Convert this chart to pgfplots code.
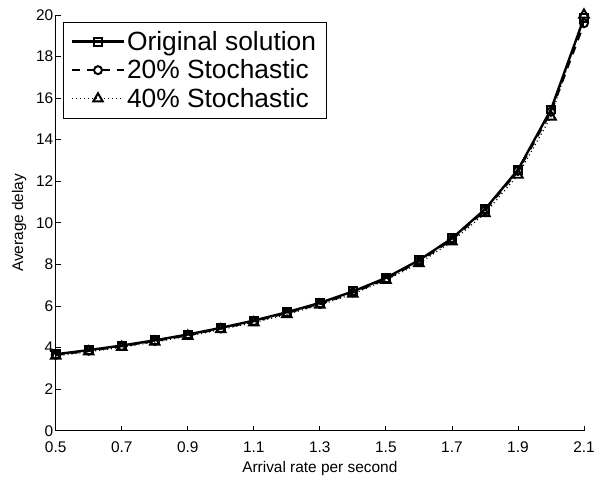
\documentclass[border=0pt]{standalone}
\usepackage{fontspec}
\setmainfont{Liberation Sans}
\usepackage{pgfplots}
\pgfplotsset{compat=1.18}
\begin{document}
\begin{tikzpicture}
\begin{axis}[
  scale only axis,
  width=531bp, height=418bp,
  xmin=0.5, xmax=2.1, ymin=0, ymax=20,
  axis x line*=bottom, axis y line*=left,
  axis line style={-, line width=0.8pt},
  tick align=inside,
  major tick length=5bp,
  tick style={line width=0.8pt, black},
  xtick={0.5,0.7,0.9,1.1,1.3,1.5,1.7,1.9,2.1},
  xticklabels={0.5,0.7,0.9,1.1,1.3,1.5,1.7,1.9,2.1},
  ytick={0,2,4,6,8,10,12,14,16,18,20},
  /pgf/number format/assume math mode=true,
  ticklabel style={font=\fontsize{15.5bp}{17bp}\selectfont},
  label style={font=\fontsize{15.5bp}{17bp}\selectfont},
  xlabel={Arrival rate per second},
  ylabel={Average delay},
  xticklabel style={yshift=-8bp},
  xlabel style={yshift=-1bp},
  yticklabel style={xshift=1bp},
  ylabel style={yshift=3bp},
  legend style={at={(0.013,0.983)}, anchor=north west, draw=black, line width=0.8pt,
    font=\fontsize{26.5bp}{29bp}\selectfont, inner xsep=8bp, inner ysep=7bp, row sep=4bp,
    legend cell align=left},
  legend image code/.code={%
    \draw[mark repeat=2, mark phase=2, #1] plot coordinates {(0bp,0bp) (26bp,0bp) (52bp,0bp)};},
  every axis plot/.append style={black, mark size=4bp,
     mark options={solid, fill=none, line width=2pt}},
]
\addplot[mark=square, line width=2.4pt] coordinates {
(0.5,3.68) (0.6,3.88) (0.7,4.10) (0.8,4.35) (0.9,4.63) (1.0,4.95) (1.1,5.30) (1.2,5.70) (1.3,6.15) (1.4,6.70) (1.5,7.35) (1.6,8.20) (1.7,9.25) (1.8,10.65) (1.9,12.55) (2.0,15.45) (2.1,19.85)};
\addlegendentry{Original solution}
\addplot[mark=o, line width=2.4pt, dash pattern=on 8bp off 7bp] coordinates {
(0.5,3.65) (0.6,3.85) (0.7,4.07) (0.8,4.32) (0.9,4.60) (1.0,4.92) (1.1,5.27) (1.2,5.67) (1.3,6.10) (1.4,6.65) (1.5,7.30) (1.6,8.15) (1.7,9.20) (1.8,10.60) (1.9,12.50) (2.0,15.35) (2.1,19.60)};
\addlegendentry{20\% Stochastic}
\addplot[mark=triangle, line width=1.3pt, dash pattern=on 1bp off 3bp, mark size=5.5bp] coordinates {
(0.5,3.60) (0.6,3.80) (0.7,4.02) (0.8,4.27) (0.9,4.55) (1.0,4.87) (1.1,5.20) (1.2,5.60) (1.3,6.05) (1.4,6.58) (1.5,7.25) (1.6,8.05) (1.7,9.10) (1.8,10.45) (1.9,12.30) (2.0,15.10) (2.1,20.00)};
\addlegendentry{40\% Stochastic}
\end{axis}
\path (current axis.south west) ++(-56bp,-46bp) rectangle ++(598bp,479bp);
\end{tikzpicture}
\end{document}
